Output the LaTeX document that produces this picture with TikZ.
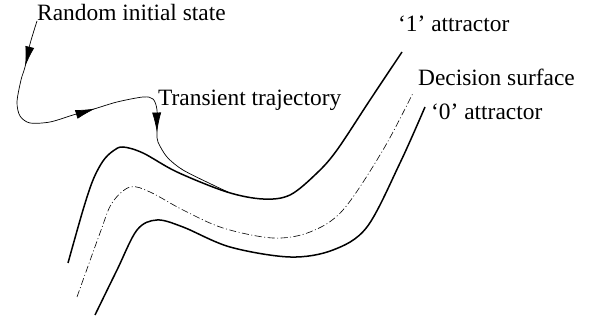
\documentclass[tikz,border=0pt]{standalone}
\usepackage{fontspec}
\setmainfont{Liberation Serif}
\usetikzlibrary{arrows.meta,decorations.markings}
\tikzset{
  attractor/.style={line width=1.5pt},
  surface/.style={line width=0.6pt,dash pattern=on 7pt off 2.5pt on 1pt off 2.5pt},
  trajectory/.style={line width=0.7pt,postaction={decorate},
    decoration={markings,
      mark=at position 47pt with {\arrow{Latex[length=20pt,width=9pt]}},
      mark=at position 178pt with {\arrow{Latex[length=20pt,width=9pt]}},
      mark=at position 272pt with {\arrow{Latex[length=20pt,width=9pt]}}}},
  txt/.style={anchor=base west,inner sep=0pt,font=\fontsize{23.4}{27}\selectfont}
}
\begin{document}
\begin{tikzpicture}[x=1pt,y=-1pt]
  \useasboundingbox (0,0) rectangle (590,323);
  % labels
  \node[txt] (init) at (37,21) {Random initial state};
  \node[txt] (trans) at (158,106) {Transient trajectory};
  \node[txt] (one) at (398,32) {‘1’ attractor};
  \node[txt] (dec) at (418,86) {Decision surface};
  \node[txt] (zero) at (431,120) {‘0’ attractor};
  % '1' attractor
  \draw[attractor] plot[smooth,tension=0.55] coordinates {(68,263) (83,210) (93,180) (103,161)
    (113,151) (123,147) (143,153) (177,172) (227,192) (263,199) (290,195) (317,173) (337,150)
    (370,100) (402,52)};
  % decision surface
  \draw[surface] plot[smooth,tension=0.55] coordinates {(77,297) (100,233) (112,203) (130,187)
    (150,192) (183,210) (223,228) (273,238) (310,232) (343,210) (383,150) (413,93)};
  % '0' attractor
  \draw[attractor] plot[smooth,tension=0.55] coordinates {(95,315) (117,270) (137,230) (157,220)
    (183,227) (230,247) (290,257) (333,250) (367,227) (400,163) (425,107)};
  % transient trajectory
  \draw[trajectory] plot[smooth,tension=0.5] coordinates {(init.base west) (30,44) (25,67) (21,80)
    (17,102) (20,116) (30,123) (50,122) (73,115) (94,109) (117,102) (143,97) (153,99) (157,110)
    (157,133) (158,142) (167,157) (183,170) (213,185) (228,192)};
\end{tikzpicture}
\end{document}
